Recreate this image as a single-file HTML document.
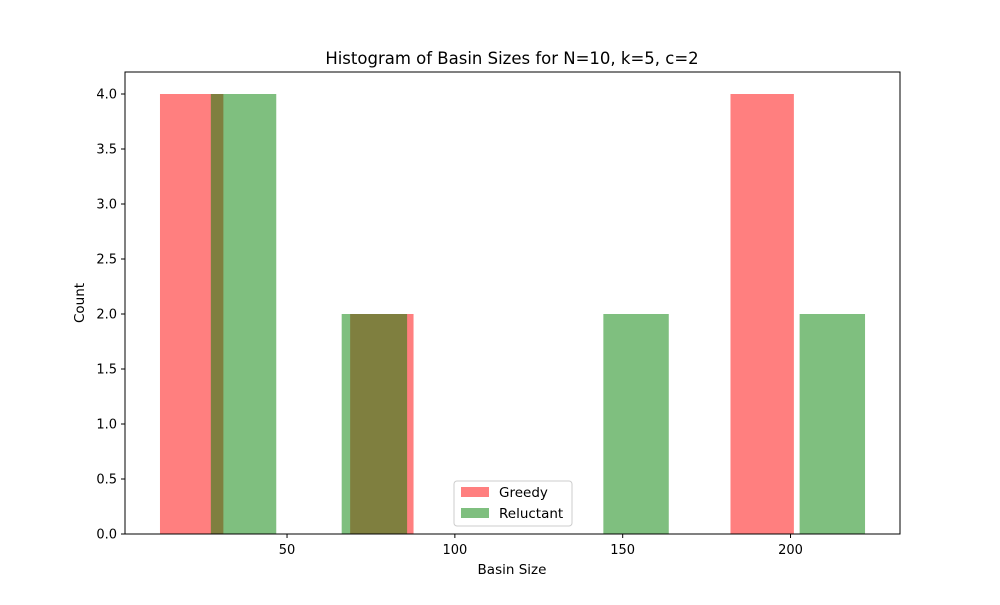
<!DOCTYPE html>
<html><head><meta charset="utf-8"><style>
body{margin:0;background:#fff;font-family:"Liberation Sans","DejaVu Sans",sans-serif}
svg text{font-family:"DejaVu Sans","Liberation Sans",sans-serif}
</style></head><body>
<svg id="chart" width="1000" height="600" xmlns="http://www.w3.org/2000/svg">
<rect width="1000" height="600" fill="#fff"/>
<text x="512" y="64" font-size="16.5" text-anchor="middle" fill="#000">Histogram of Basin Sizes for N=10, k=5, c=2</text>
<g id="bars"></g>
<rect x="125" y="72" width="775" height="462" fill="none" stroke="#000" stroke-width="1"/>
<g id="axes"></g>
<text x="512" y="574" font-size="13.5" text-anchor="middle">Basin Size</text>
<text transform="translate(84,303) rotate(-90)" font-size="13.5" text-anchor="middle">Count</text>
<g>
<rect x="454" y="481" width="118" height="45" rx="3" fill="#fff" fill-opacity="0.8" stroke="#ccc"/>
<rect x="461" y="487" width="28" height="10" fill="#ff0000" fill-opacity="0.5"/>
<text x="499" y="497" font-size="13.5">Greedy</text>
<rect x="461" y="508" width="28" height="10" fill="#008000" fill-opacity="0.5"/>
<text x="499" y="518" font-size="13.5">Reluctant</text>
</g>
</svg>
<script>
const greedyRange = [12.15, 201.0];
const greedyCounts = [4, 0, 0, 2, 0, 0, 0, 0, 0, 4];
const reluctantRange = [27.3, 222.2];
const reluctantCounts = [4, 0, 2, 0, 0, 0, 2, 0, 0, 2];
const xTicks = [50, 100, 150, 200];
const yTicks = [0, 0.5, 1, 1.5, 2, 2.5, 3, 3.5, 4];

const NS = "http://www.w3.org/2000/svg";
const xScale = v => 119.2 + v * 3.3566;
const yScale = v => 534 - v * 110;
const barsG = document.getElementById('bars');
const axesG = document.getElementById('axes');

function drawHist(range, counts, color, name) {
  const w = (range[1] - range[0]) / counts.length;
  counts.forEach((c, i) => {
    if (c <= 0) return;
    const x0 = xScale(range[0] + i * w), x1 = xScale(range[0] + (i + 1) * w);
    const r = document.createElementNS(NS, 'rect');
    r.setAttribute('x', x0); r.setAttribute('width', x1 - x0);
    r.setAttribute('y', yScale(c)); r.setAttribute('height', yScale(0) - yScale(c));
    r.setAttribute('fill', color); r.setAttribute('fill-opacity', '0.5');
    
    
    barsG.appendChild(r);
  });
}
drawHist(greedyRange, greedyCounts, '#ff0000', 'greedy');
drawHist(reluctantRange, reluctantCounts, '#008000', 'reluctant');

xTicks.forEach(t => {
  const x = xScale(t);
  const l = document.createElementNS(NS, 'line');
  l.setAttribute('x1', x); l.setAttribute('x2', x); l.setAttribute('y1', 534); l.setAttribute('y2', 538);
  l.setAttribute('stroke', '#000');
  
  
  axesG.appendChild(l);
  const tx = document.createElementNS(NS, 'text');
  tx.setAttribute('x', x); tx.setAttribute('y', 554); tx.setAttribute('font-size', '13');
  tx.setAttribute('text-anchor', 'middle'); tx.textContent = t;
  
  
  axesG.appendChild(tx);
});
yTicks.forEach(t => {
  const y = yScale(t);
  const l = document.createElementNS(NS, 'line');
  l.setAttribute('x1', 121); l.setAttribute('x2', 125); l.setAttribute('y1', y); l.setAttribute('y2', y);
  l.setAttribute('stroke', '#000');
  
  
  axesG.appendChild(l);
  const tx = document.createElementNS(NS, 'text');
  tx.setAttribute('x', 117); tx.setAttribute('y', y + 4.5); tx.setAttribute('font-size', '13');
  tx.setAttribute('text-anchor', 'end'); tx.textContent = t.toFixed(1);
  
  
  axesG.appendChild(tx);
});
</script>
</body></html>
